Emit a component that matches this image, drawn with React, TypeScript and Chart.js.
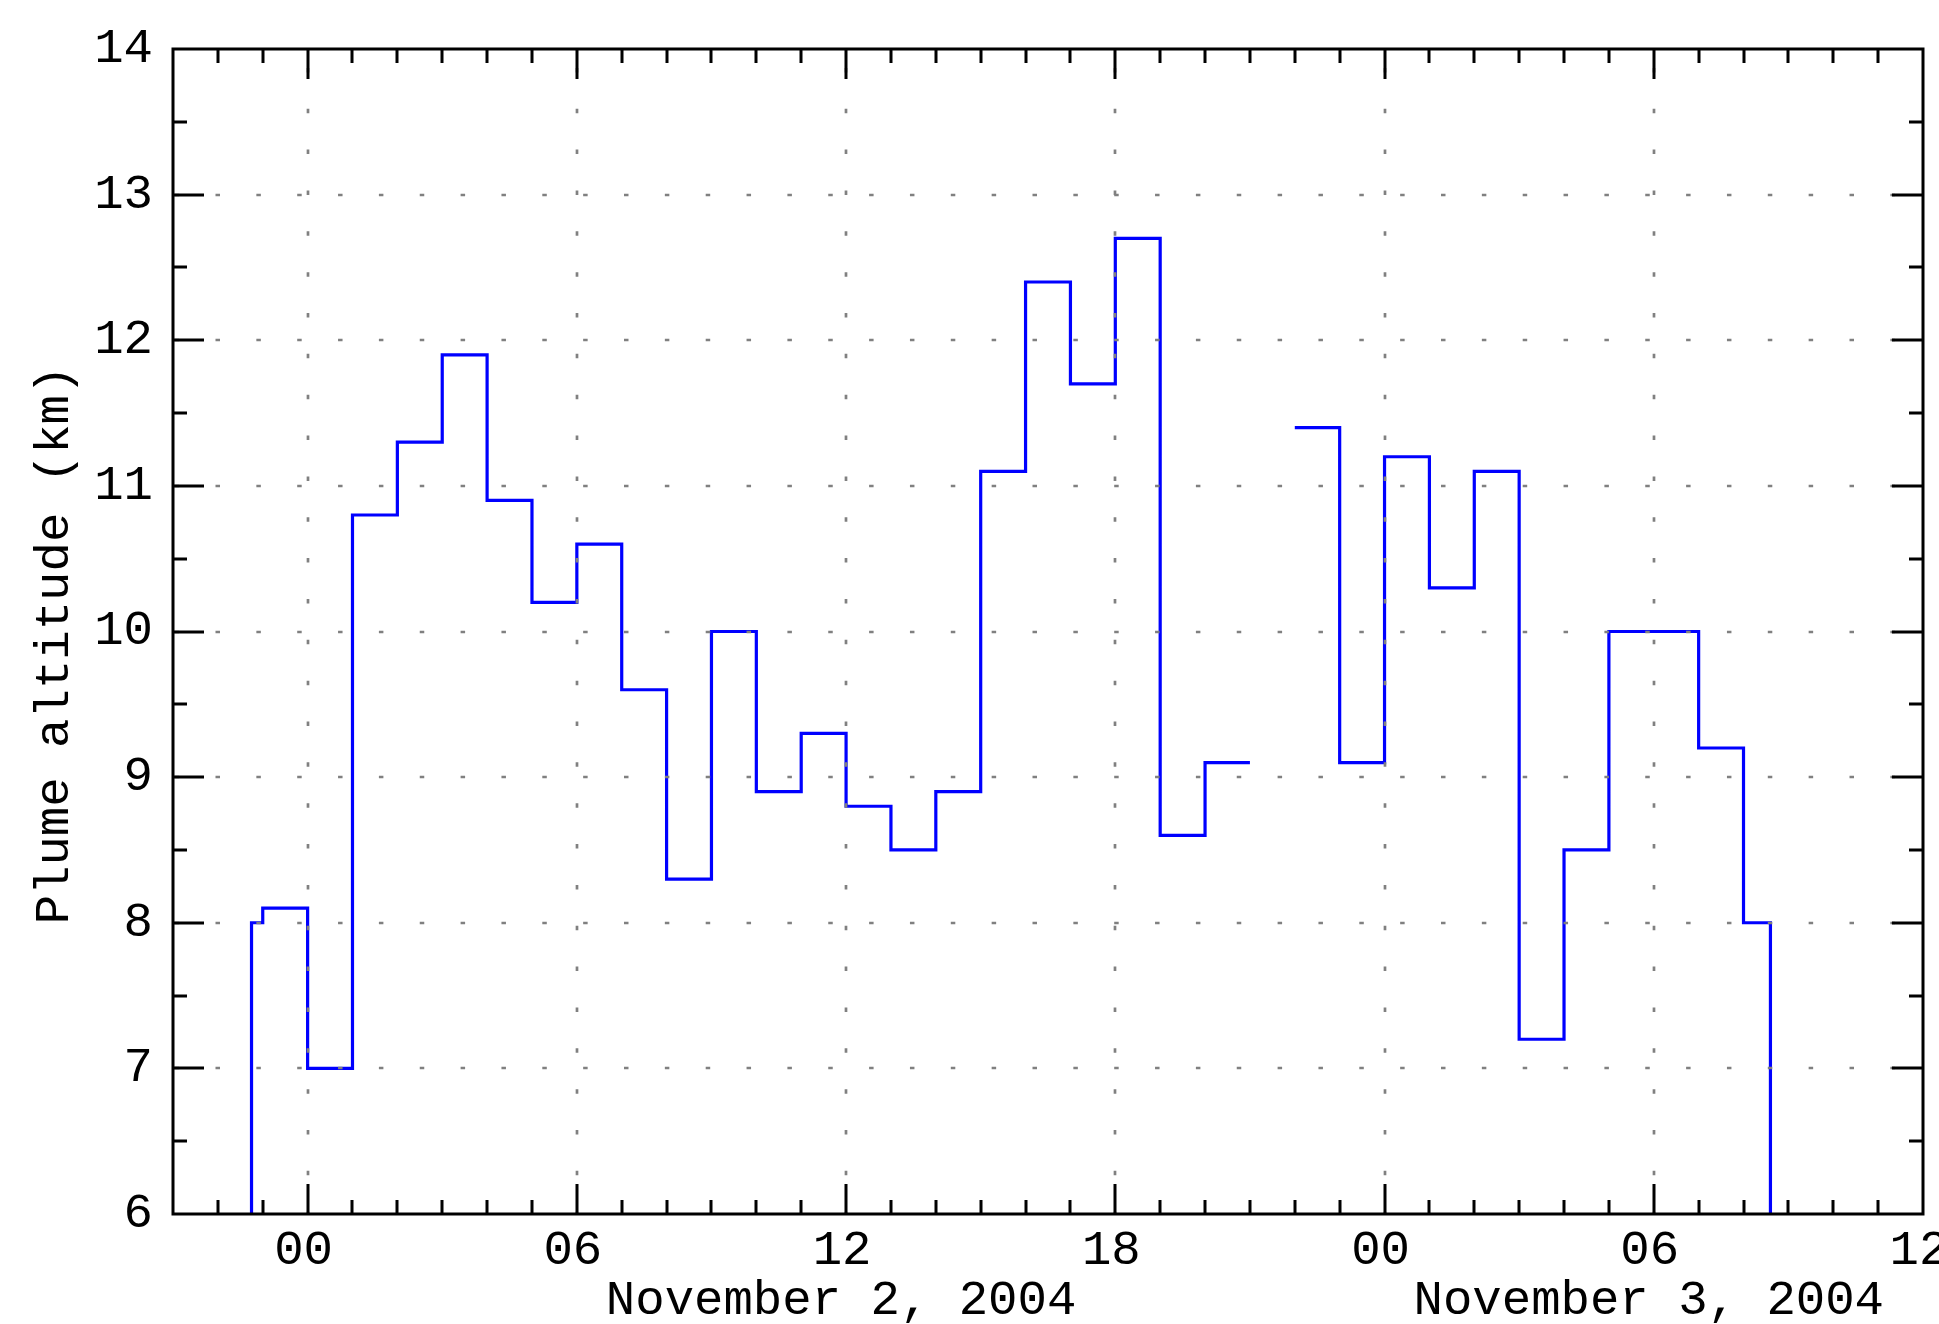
import { useEffect, useRef } from 'react';
import { Chart, registerables } from 'chart.js';

Chart.register(...registerables);

// Step data: each point is the END hour of an interval and the altitude over that interval
// (hours relative to 00 UT, November 2, 2004). null marks the data gap.
const stepEndHours = [
  -1.25, -1, 0, 1, 2, 3, 4, 5, 6, 7, 8, 9, 10, 11, 12, 13, 14, 15, 16, 17, 18, 19, 20, 21,
  21.5,
  22, 23, 24, 25, 26, 27, 28, 29, 30, 31, 32, 32.6, 33,
];
const altitudeKm: (number | null)[] = [
  0, 8.0, 8.1, 7.0, 10.8, 11.3, 11.9, 10.9, 10.2, 10.6, 9.6, 8.3, 10.0, 8.9, 9.3, 8.8, 8.5, 8.9,
  11.1, 12.4, 11.7, 12.7, 8.6, 9.1,
  null,
  11.4, 11.4, 9.1, 11.2, 10.3, 11.1, 7.2, 8.5, 10.0, 10.0, 9.2, 8.0, 0,
];

const xMin = -3;
const xMax = 36;
const xMajorHours = [0, 6, 12, 18, 24, 30, 36];
const xMinorStep = 1;
const yMin = 6;
const yMax = 14;
const yMajorStep = 1;
const yMinorStep = 0.5;

const dateLabels = ['November 2, 2004', 'November 3, 2004'];
const dateLabelHours = [12, 30];
const yTitle = 'Plume altitude (km)';

const FONT_FAMILY = "'Liberation Mono', 'DejaVu Sans Mono', monospace";
const FONT_SIZE = 49;

const framePlugin = {
  id: 'framePlugin',
  afterDatasetsDraw(chart: any) {
    const { ctx, chartArea } = chart;
    const { left, right, top, bottom } = chartArea;
    const xs = chart.scales.x;
    const ys = chart.scales.y;
    ctx.save();

    // dotted grid lines (drawn over the data, as in the reference)
    ctx.strokeStyle = '#808080';
    ctx.lineWidth = 2.7;
    ctx.lineCap = 'butt';
    ctx.setLineDash([4.5, 36.35]);
    for (let v = yMin + yMajorStep; v < yMax; v += yMajorStep) {
      const py = Math.round(ys.getPixelForValue(v));
      ctx.lineDashOffset = 39.2;
      ctx.beginPath();
      ctx.moveTo(left, py);
      ctx.lineTo(right, py);
      ctx.stroke();
    }
    for (const h of xMajorHours) {
      if (h <= xMin || h >= xMax) continue;
      const px = Math.round(xs.getPixelForValue(h));
      ctx.lineDashOffset = 2.2;
      ctx.beginPath();
      ctx.moveTo(px, bottom);
      ctx.lineTo(px, top);
      ctx.stroke();
    }

    // frame
    ctx.setLineDash([]);
    ctx.strokeStyle = '#000000';
    ctx.lineWidth = 3;
    ctx.lineCap = 'square';
    ctx.strokeRect(left, top, right - left, bottom - top);

    // inward ticks on all four sides
    ctx.lineCap = 'butt';
    ctx.beginPath();
    for (let h = Math.ceil(xMin); h <= xMax; h += xMinorStep) {
      if (h <= xMin || h >= xMax) continue;
      const major = xMajorHours.includes(h);
      const len = major ? 30 : 14;
      const px = Math.round(xs.getPixelForValue(h));
      ctx.moveTo(px, bottom);
      ctx.lineTo(px, bottom - len);
      ctx.moveTo(px, top);
      ctx.lineTo(px, top + len);
    }
    for (let v = yMin + yMinorStep; v < yMax; v += yMinorStep) {
      const major = Math.abs(v - Math.round(v)) < 1e-6;
      const len = major ? 31 : 14;
      const py = Math.round(ys.getPixelForValue(v));
      ctx.moveTo(left, py);
      ctx.lineTo(left + len, py);
      ctx.moveTo(right, py);
      ctx.lineTo(right - len, py);
    }
    ctx.stroke();

    // texts
    ctx.fillStyle = '#000000';
    ctx.font = `${FONT_SIZE}px ${FONT_FAMILY}`;
    ctx.textAlign = 'center';
    ctx.textBaseline = 'alphabetic';
    dateLabels.forEach((t, i) => {
      ctx.fillText(t, xs.getPixelForValue(dateLabelHours[i]) - 5, 1314);
    });

    ctx.save();
    ctx.translate(68, 645);
    ctx.rotate(-Math.PI / 2);
    ctx.fillText(yTitle, 0, 0);
    ctx.restore();

    ctx.restore();
  },
};

export default function App() {
  const canvasRef = useRef<HTMLCanvasElement | null>(null);

  useEffect(() => {
    const canvas = canvasRef.current;
    if (!canvas) return;
    const points = stepEndHours.map((h, i) => ({ x: h, y: altitudeKm[i] }));
    const tickFont = { family: FONT_FAMILY, size: FONT_SIZE };

    const chart = new Chart(canvas, {
      type: 'line',
      data: {
        datasets: [
          {
            data: points as any,
            stepped: 'after',
            borderColor: '#0000ff',
            borderWidth: 3.2,
            pointRadius: 0,
            spanGaps: false,
            fill: false,
          },
        ],
      },
      options: {
        responsive: false,
        animation: false,
        devicePixelRatio: 1,
        layout: { padding: { left: 0, right: 16, top: 49, bottom: 0 } },
        plugins: {
          legend: { display: false },
          tooltip: { enabled: false },
          title: { display: false },
        },
        scales: {
          x: {
            type: 'linear',
            position: 'bottom',
            min: xMin,
            max: xMax,
            grid: { display: false, drawTicks: false },
            border: { display: false },
            afterBuildTicks: (scale: any) => {
              scale.ticks = xMajorHours.map((v) => ({ value: v }));
            },
            afterFit: (scale: any) => {
              scale.height = 110;
              scale.paddingLeft = 0;
              scale.paddingRight = 0;
              scale.paddingTop = 0;
              scale.paddingBottom = 0;
            },
            ticks: {
              autoSkip: false,
              maxRotation: 0,
              minRotation: 0,
              padding: 8,
              labelOffset: -4,
              color: '#000000',
              font: tickFont,
              callback: (value: any) => {
                const v = Number(value);
                const h = ((v % 24) + 24) % 24;
                return String(h).padStart(2, '0');
              },
            },
          },
          y: {
            type: 'linear',
            position: 'left',
            min: yMin,
            max: yMax,
            grid: { display: false, drawTicks: false },
            border: { display: false },
            afterFit: (scale: any) => {
              scale.width = 173;
              scale.paddingLeft = 0;
              scale.paddingRight = 0;
              scale.paddingTop = 0;
              scale.paddingBottom = 0;
            },
            ticks: {
              stepSize: yMajorStep,
              padding: 20,
              color: '#000000',
              font: tickFont,
            },
          },
        },
      },
      plugins: [framePlugin],
    });

    return () => {
      chart.destroy();
    };
  }, []);

  return (
    <div style={{ position: 'absolute', left: 0, top: 0, width: 1939, height: 1324, background: '#ffffff' }}>
      <canvas ref={canvasRef} width={1939} height={1324} style={{ display: 'block' }} />
    </div>
  );
}
